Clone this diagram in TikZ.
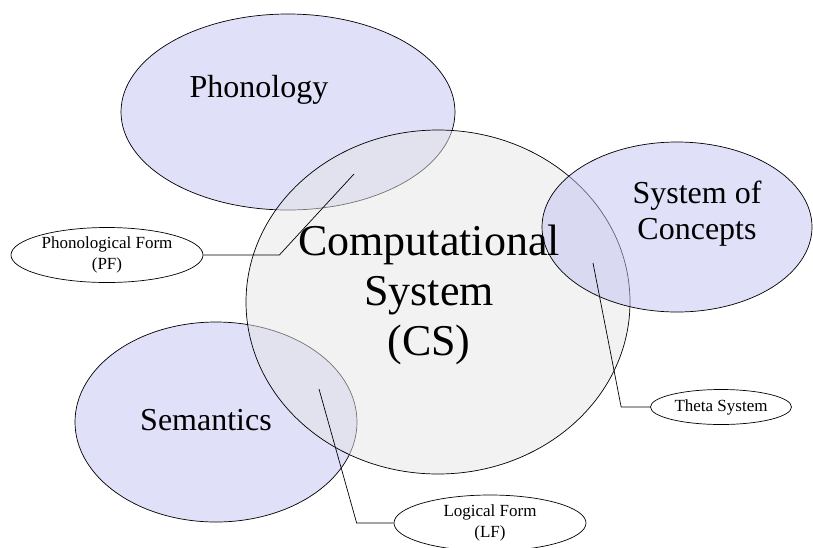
\documentclass[tikz,border=0pt]{standalone}
\usepackage{fontspec}
\setmainfont{Liberation Serif}
\usetikzlibrary{shapes.geometric}

\definecolor{lavfill}{RGB}{193,193,241}
\definecolor{csfill}{RGB}{229,229,229}

\begin{document}
\begin{tikzpicture}[x=1pt, y=-1pt, line width=0.7pt,
    region/.style={draw=black, fill opacity=0.5},
    areatext/.style={align=center, font=\fontsize{32}{36}\selectfont},
    formlabel/.style={ellipse, draw, fill=white, inner sep=0pt, align=center,
        font=\fontsize{17}{21}\selectfont}]
    \useasboundingbox (0,0) rectangle (813,547);

    % Области (порядок важен: CS поверх Phonology и Semantics)
    \draw[region, fill=lavfill] (288,112) ellipse [x radius=167pt, y radius=98pt];
    \draw[region, fill=lavfill] (216,422) ellipse [x radius=141pt, y radius=100pt];
    \draw[region, fill=csfill] (438,302) ellipse [x radius=192pt, y radius=172pt];
    \draw[region, fill=lavfill] (677,227) ellipse [x radius=135pt, y radius=85pt];

    % Подписи областей
    \node[areatext, anchor=base] (phon) at (259,97) {Phonology};
    \node[areatext, anchor=base] (sem) at (206,430) {Semantics};
    \node[areatext] (conc) at (697,214) {System of\\Concepts};
    \node[align=center, font=\fontsize{44}{50}\selectfont] (cs) at (429,295)
        {Computational\\System\\(CS)};

    % Выноски
    \node[formlabel, minimum width=192pt, minimum height=55pt] (pf) at (107,255)
        {Phonological Form\\(PF)};
    \node[formlabel, minimum width=141pt, minimum height=35pt] (theta) at (721,407)
        {Theta System};
    \node[formlabel, minimum width=192pt, minimum height=56pt] (lf) at (490,523)
        {Logical Form\\(LF)};

    % Концы линий выносок
    \coordinate (pftip) at (354,174);
    \coordinate (thetatip) at (593,263);
    \coordinate (lftip) at (319,389);

    \draw (pf.east) -- ++(76,0) -- (pftip);
    \draw (theta.west) -- ++(-29,0) -- (thetatip);
    \draw (lf.west) -- ++(-37,0) -- (lftip);
\end{tikzpicture}
\end{document}
